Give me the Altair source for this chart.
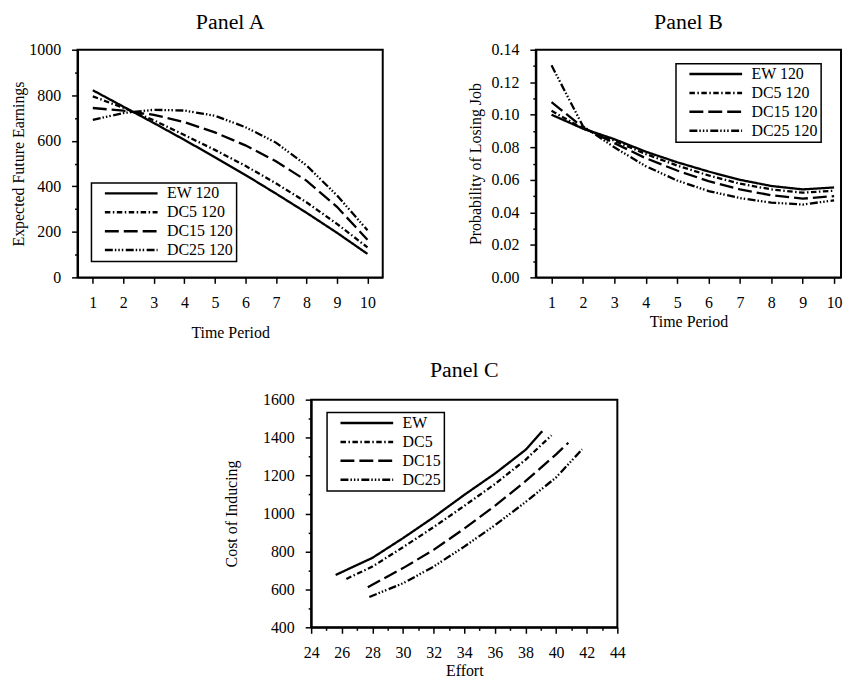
import altair as alt
import pandas as pd

FONT = "Liberation Serif"

# ---------------- data ----------------
periods = [1, 2, 3, 4, 5, 6, 7, 8, 9, 10]
names_ab = ["EW 120", "DC5 120", "DC15 120", "DC25 120"]
names_c = ["EW", "DC5", "DC15", "DC25"]

earn_ew = [822, 750, 678, 604, 528, 450, 368, 284, 196, 103]
earn_dc5 = [795, 745, 690, 625, 560, 490, 413, 330, 235, 132]
earn_dc15 = [744, 732, 714, 682, 637, 580, 510, 425, 310, 165]
earn_dc25 = [692, 722, 736, 733, 710, 660, 592, 492, 360, 207]

prob_ew = [0.1000, 0.0915, 0.0850, 0.0773, 0.0708, 0.0651, 0.0600, 0.0562, 0.0541, 0.0553]
prob_dc5 = [0.1024, 0.0916, 0.0840, 0.0759, 0.0688, 0.0627, 0.0576, 0.0541, 0.0521, 0.0533]
prob_dc15 = [0.1078, 0.0922, 0.0826, 0.0733, 0.0657, 0.0592, 0.0541, 0.0505, 0.0484, 0.0500]
prob_dc25 = [0.1304, 0.0930, 0.0800, 0.0684, 0.0596, 0.0531, 0.0488, 0.0460, 0.0448, 0.0474]

effort_ew = [25.6, 28, 30, 32, 34, 36, 38, 39.1]
cost_ew = [676, 766, 870, 980, 1098, 1210, 1335, 1434]
effort_dc5 = [26.3, 28, 30, 32, 34, 36, 38, 39.7]
cost_dc5 = [655, 720, 822, 928, 1040, 1155, 1283, 1412]
effort_dc15 = [27.7, 30, 32, 34, 36, 38, 40, 40.8]
cost_dc15 = [611, 712, 808, 920, 1040, 1170, 1312, 1373]
effort_dc25 = [27.8, 30, 32, 34, 36, 38, 40, 41.7]
cost_dc25 = [560, 632, 720, 825, 938, 1060, 1190, 1338]

dashes = [[1, 0], [5.5, 2.5, 1.5, 2.5], [14, 5], [8, 2, 1.5, 2, 1.5, 2, 1.5, 2.5]]


def long_df(xs_list, ys_list, names):
    rows = []
    for xs, ys, n in zip(xs_list, ys_list, names):
        for i, (x, y) in enumerate(zip(xs, ys)):
            rows.append({"x": x, "y": y, "series": n, "order": i})
    return pd.DataFrame(rows)


df_a = long_df([periods] * 4, [earn_ew, earn_dc5, earn_dc15, earn_dc25], names_ab)
df_b = long_df([periods] * 4, [prob_ew, prob_dc5, prob_dc15, prob_dc25], names_ab)
df_c = long_df([effort_ew, effort_dc5, effort_dc15, effort_dc25],
               [cost_ew, cost_dc5, cost_dc15, cost_dc25], names_c)


def legend(lx, ly):
    return alt.Legend(
        title=None, orient="none", legendX=lx, legendY=ly,
        symbolType="stroke", symbolSize=2809, symbolStrokeWidth=2.5,
        symbolStrokeColor="black", clipHeight=15, rowPadding=2, padding=3,
        symbolOffset=9, labelOffset=8,
        strokeColor="black", fillColor="white",
        labelFont=FONT, labelFontSize=16, labelColor="black",
    )


def tick_cond(test, major=6, minor=3):
    return {"condition": {"test": test, "value": major}, "value": minor}


def panel(df, names, title, xdom, ydom, xvals, yvals, xtest, ytest, xtitle, ytitle,
          width, height, lx, ly, yfmt="d", xtitlepad=14, ytitlepad=2, toff=8):
    xaxis = alt.Axis(
        values=xvals, format="d", labelExpr=f"{xtest} ? datum.label : ''",
        tickSize=tick_cond(xtest), labelPadding=11, labelOverlap=False,
        labelFlush=False, title=xtitle, titlePadding=xtitlepad,
    )
    yaxis = alt.Axis(
        values=yvals, format=yfmt, labelExpr=f"{ytest} ? datum.label : ''",
        tickSize=tick_cond(ytest), labelPadding=11, labelOverlap=False,
        labelFlush=False, title=ytitle, titlePadding=ytitlepad,
    )
    return alt.Chart(df, title=alt.Title(title, offset=toff)).mark_line(
        color="black", strokeWidth=2.3, clip=True
    ).encode(
        x=alt.X("x:Q", scale=alt.Scale(domain=xdom, nice=False, zero=False), axis=xaxis),
        y=alt.Y("y:Q", scale=alt.Scale(domain=ydom, nice=False, zero=False), axis=yaxis),
        strokeDash=alt.StrokeDash("series:N", scale=alt.Scale(domain=names, range=dashes),
                                  legend=legend(lx, ly)),
        order="order:Q",
    ).properties(width=width, height=height)


half_ticks = [v / 2 for v in range(2, 21)]

chart_a = panel(df_a, names_ab, "Panel A", [0.5, 10.5], [0, 1000],
                half_ticks, list(range(0, 1001, 100)),
                "datum.value % 1 == 0", "datum.value % 200 == 0",
                "Time Period", "Expected Future Earnings", 307, 229, 14, 134)

chart_b = panel(df_b, names_ab, "Panel B", [0.5, 10.22], [0, 0.14],
                half_ticks, [i / 100 for i in range(0, 15)],
                "datum.value % 1 == 0", "round(datum.value * 100) % 2 == 0",
                "Time Period", "Probability of Losing Job", 307, 229, 141, 14,
                yfmt=".2f", xtitlepad=3, ytitlepad=8)

chart_c = panel(df_c, names_c, "Panel C", [24, 44], [400, 1600],
                list(range(24, 45)), list(range(400, 1601, 100)),
                "datum.value % 2 == 0", "datum.value % 200 == 0",
                "Effort", "Cost of Inducing", 308, 229, 16, 13,
                xtitlepad=2, ytitlepad=23, toff=10)

# invisible spacer that shifts Panel C to the right
spacer = alt.Chart(pd.DataFrame({"s": [0]})).mark_point(opacity=0).properties(
    width=145, height=10, view=alt.ViewBackground(stroke="transparent")
)

top = alt.hconcat(chart_a, chart_b, spacing=83).resolve_scale(
    strokeDash="independent").resolve_legend(strokeDash="independent")

bottom = alt.hconcat(spacer, chart_c, spacing=0).resolve_scale(
    strokeDash="independent").resolve_legend(strokeDash="independent")

chart = alt.vconcat(top, bottom, spacing=17).resolve_scale(
    strokeDash="independent"
).resolve_legend(strokeDash="independent").properties(
    padding={"left": 10, "top": 8, "right": 0, "bottom": 0}
).configure_view(
    stroke="black", strokeWidth=2
).configure_axis(
    labelFont=FONT, labelFontSize=16, labelColor="black",
    titleFont=FONT, titleFontSize=16, titleFontWeight="normal", titleColor="black",
    domainColor="black", domainWidth=2, tickColor="black", tickWidth=1.5, grid=False,
).configure_title(
    font=FONT, fontSize=22, fontWeight="normal", color="black", anchor="middle"
).configure_legend(
    strokeWidth=1.5
)

chart.save("out.html", embed_options={"renderer": "svg", "actions": False})
